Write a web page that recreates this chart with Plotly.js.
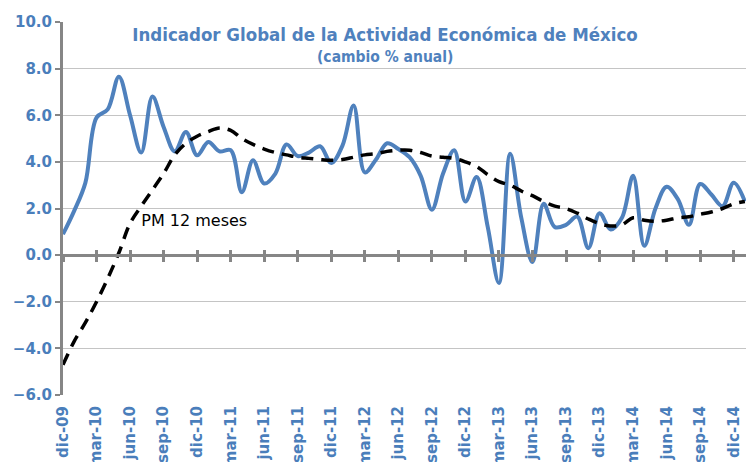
<!DOCTYPE html>
<html>
<head>
<meta charset="utf-8">
<script src="https://cdn.plot.ly/plotly-3.0.1.min.js"></script>
<style>html,body{margin:0;padding:0;background:#fff;}#chart{width:748px;height:462px;}</style>
</head>
<body>
<div id="chart"></div>
<script>
// Month categories (dic-09 .. ene-15)
var months = [
  'dic-09',
  'ene-10','feb-10','mar-10','abr-10','may-10','jun-10','jul-10','ago-10','sep-10','oct-10','nov-10','dic-10',
  'ene-11','feb-11','mar-11','abr-11','may-11','jun-11','jul-11','ago-11','sep-11','oct-11','nov-11','dic-11',
  'ene-12','feb-12','mar-12','abr-12','may-12','jun-12','jul-12','ago-12','sep-12','oct-12','nov-12','dic-12',
  'ene-13','feb-13','mar-13','abr-13','may-13','jun-13','jul-13','ago-13','sep-13','oct-13','nov-13','dic-13',
  'ene-14','feb-14','mar-14','abr-14','may-14','jun-14','jul-14','ago-14','sep-14','oct-14','nov-14','dic-14',
  'ene-15'
];
// IGAE annual % change
var igae = [
  0.9,
  1.9, 3.1, 5.9, 6.25, 7.65, 6.0, 4.4, 6.8, 5.5, 4.45, 5.28, 4.28,
  4.85, 4.45, 4.5, 2.7, 4.07, 3.07, 3.5, 4.75, 4.25, 4.4, 4.67, 3.95,
  4.7, 6.42, 3.55, 4.1, 4.8, 4.55, 4.2, 3.4, 1.95, 3.5, 4.5, 2.3,
  3.35, 1.2, -1.2, 4.35, 1.6, -0.3, 2.2, 1.2, 1.3, 1.65, 0.3, 1.8,
  1.1, 1.6, 3.4, 0.4, 2.0, 2.93, 2.4, 1.3, 3.05, 2.6, 2.1, 3.1,
  2.3
];
// 12-month moving average
var pm12 = [
  -4.7,
  -3.7, -2.9, -2.0, -1.0, 0.1, 1.36, 2.1, 2.8, 3.5, 4.3, 4.8, 5.1,
  5.3, 5.45, 5.35, 5.0, 4.75, 4.55, 4.4, 4.3, 4.2, 4.15, 4.1, 4.07,
  4.1, 4.2, 4.3, 4.35, 4.45, 4.5, 4.5, 4.4, 4.25, 4.2, 4.15, 4.0,
  3.8, 3.45, 3.15, 3.0, 2.75, 2.55, 2.3, 2.1, 2.0, 1.8, 1.55, 1.35,
  1.25, 1.3, 1.6, 1.5, 1.45, 1.5, 1.6, 1.65, 1.75, 1.85, 2.0, 2.2,
  2.3
];
// Tick labels (every third month)
var tickLabels = ['dic-09','mar-10','jun-10','sep-10','dic-10','mar-11','jun-11','sep-11','dic-11',
  'mar-12','jun-12','sep-12','dic-12','mar-13','jun-13','sep-13','dic-13','mar-14','jun-14','sep-14','dic-14'];
var labelText = ['PM 12 meses'];
var labelX = ['jul-10'];
var labelY = [1.41];

var blue = '#4F81BD';
var tickBlue = '#4A7EBB';
var axisGray = '#868686';
var fontFam = 'DejaVu Sans, Verdana, sans-serif';
var condFam = 'DejaVu Sans Condensed, DejaVu Sans, sans-serif';

var traces = [
  {x: months, y: pm12, type: 'scatter', mode: 'lines', xaxis: 'x2', yaxis: 'y',
   line: {color: '#000000', width: 3.5, dash: '12px,8px', shape: 'spline', smoothing: 1},
   hoverinfo: 'skip', showlegend: false},
  {x: months, y: igae, type: 'scatter', mode: 'lines', xaxis: 'x', yaxis: 'y',
   line: {color: blue, width: 4, shape: 'spline', smoothing: 1},
   showlegend: false},
  {x: labelX, y: labelY, type: 'scatter', mode: 'text', xaxis: 'x3', yaxis: 'y',
   text: labelText, textposition: 'middle right',
   textfont: {family: fontFam, size: 16, color: '#000000'},
   hoverinfo: 'skip', showlegend: false}
];

var xr = [0, 61.1];
var catAxis = {type: 'category', categoryorder: 'array', categoryarray: months, range: xr};

var layout = {
  width: 748, height: 462,
  margin: {l: 63, r: 2, t: 21.5, b: 67, pad: 0},
  paper_bgcolor: '#ffffff', plot_bgcolor: '#ffffff',
  title: {
    text: '<b>Indicador Global de la Actividad Económica de México</b>',
    font: {family: condFam, size: 18.5, color: blue},
    xref: 'container', x: 385 / 748, xanchor: 'center',
    yref: 'container', y: 1 - 35 / 462, yanchor: 'middle'
  },
  xaxis: Object.assign({}, catAxis, {
    tickmode: 'array', tickvals: tickLabels, ticktext: tickLabels,
    tickangle: -90, showgrid: false, showline: false, zeroline: false, ticks: '',
    ticklabelstandoff: 7,
    tickfont: {family: fontFam, size: 15, color: tickBlue, weight: 'bold'}
  }),
  xaxis2: Object.assign({}, catAxis, {
    overlaying: 'x', anchor: 'free', position: 0.375,
    tickmode: 'array', tickvals: tickLabels, showticklabels: false,
    showgrid: false, zeroline: false, showline: true, linecolor: axisGray, linewidth: 3,
    ticks: 'outside', ticklen: 5, tickwidth: 3, tickcolor: axisGray
  }),
  xaxis3: Object.assign({}, catAxis, {
    overlaying: 'x', anchor: 'free', position: 0.375,
    tickmode: 'array', tickvals: tickLabels, showticklabels: false,
    showgrid: false, zeroline: false, showline: false,
    ticks: 'inside', ticklen: 5, tickwidth: 3, tickcolor: axisGray
  }),
  yaxis: {
    range: [-6, 10], dtick: 2, tick0: 0, tickformat: '.1f',
    showgrid: true, gridcolor: '#C4C4C4', gridwidth: 1,
    zeroline: false, showline: true, linecolor: axisGray, linewidth: 3,
    ticks: 'outside', ticklen: 5, tickwidth: 2, tickcolor: axisGray,
    tickfont: {family: fontFam, size: 15, color: tickBlue, weight: 'bold'}
  },
  annotations: [{
    text: '<b>(cambio % anual)</b>', xref: 'paper', yref: 'paper',
    x: (385 - 63) / 683, y: (395 - 57) / 373.5, xanchor: 'center', yanchor: 'middle',
    showarrow: false, font: {family: condFam, size: 15.5, color: blue}
  }]
};

Plotly.newPlot('chart', traces, layout, {displayModeBar: false, staticPlot: true});
</script>
</body>
</html>
